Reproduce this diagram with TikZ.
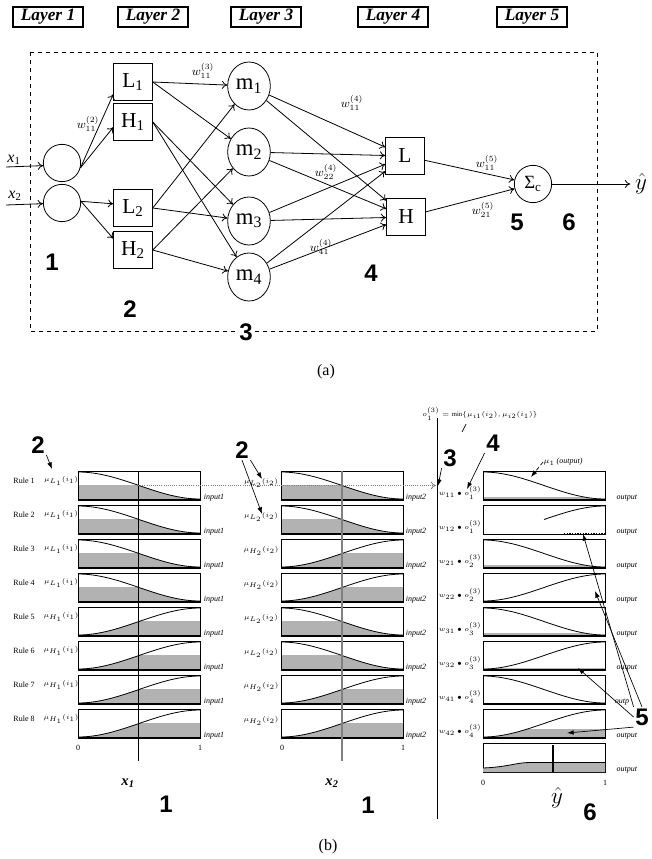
\documentclass[tikz,border=0pt]{standalone}
\usepackage{fontspec}
\setmainfont{Liberation Serif}
\newfontfamily\numfont{Liberation Sans}
\usetikzlibrary{arrows.meta,
                positioning,
                shapes.geometric
                }

\begin{document}
\begin{tikzpicture}[
    x=0.75pt, y=-0.75pt, line width=0.6pt,
    >={To[length=4pt, width=6pt]},
  lay/.style  = {draw, line width=1.4pt, minimum width=53pt, minimum height=15pt,
                 inner sep=0pt, font=\fontsize{13}{13}\selectfont\bfseries\itshape},
  inp/.style  = {circle, draw, minimum size=28pt, inner sep=0pt},
  mfb/.style  = {draw, minimum width=29pt, minimum height=28pt, inner sep=0pt,
                 font=\fontsize{16}{16}\selectfont},
  rulc/.style = {ellipse, draw, minimum width=32pt, minimum height=36pt, inner sep=0pt,
                 font=\fontsize{17}{17}\selectfont},
  num/.style  = {inner sep=1pt, font=\fontsize{18}{18}\selectfont\numfont\bfseries},
  wt/.style   = {inner sep=0pt, font=\fontsize{9}{9}\selectfont},
  lbl/.style  = {inner sep=0pt, font=\fontsize{6}{6}\selectfont},
  mul/.style  = {inner sep=0pt, font=\fontsize{5}{5}\selectfont},
  ptr/.style  = {-{Latex[length=5pt, width=3.5pt]}, line width=0.5pt},
  shd/.style  = {fill=black!30},
  pics/decmf/.style = {code={
    \fill[white] (0,0) rectangle (122,29);
    \begin{scope}
      \clip (0,#1) rectangle (122,29);
      \fill[shd] (0,1) .. controls (43,1) and (79,28) .. (122,28) |- (0,29) -- cycle;
    \end{scope}
    \draw (0,0) rectangle (122,29);
    \draw (0,1) .. controls (43,1) and (79,28) .. (122,28);
    \draw[line width=1.5pt] (0,29) -- (122,29);
  }},
  pics/incmf/.style = {code={
    \fill[white] (0,0) rectangle (122,29);
    \begin{scope}
      \clip (0,#1) rectangle (122,29);
      \fill[shd] (0,28) .. controls (43,28) and (79,1) .. (122,1) |- (0,29) -- cycle;
    \end{scope}
    \draw (0,0) rectangle (122,29);
    \draw (0,28) .. controls (43,28) and (79,1) .. (122,1);
    \draw[line width=1.5pt] (0,29) -- (122,29);
  }}
                    ]
\useasboundingbox (0,0) rectangle (652,859);

% (a) network
\foreach \i/\x in {1/48,2/153,3/266,4/393,5/532}
  \node[lay] (lay\i) at (\x,17) {Layer \i};
\draw[dashed] (30,52) rectangle (597,331);

\node[inp] (in1) at (62,163) {};
\node[inp] (in2) at (62,203) {};
\node (x1) at (14,160) {\fontsize{12}{12}\selectfont\textit{x}\textsubscript{1}};
\node (x2) at (15,196) {\fontsize{12}{12}\selectfont\textit{x}\textsubscript{2}};
\coordinate (s1) at (6,167);
\coordinate (s2) at (6,205);
\draw[->] (s1) -- (in1.188);
\draw[->] (s2) -- (in2.182);

\node[mfb] (L1) at (133,82)  {L\textsubscript{1}};
\node[mfb] (H1) at (133,122) {H\textsubscript{1}};
\node[mfb] (L2) at (133,208) {L\textsubscript{2}};
\node[mfb] (H2) at (133,250) {H\textsubscript{2}};

\node[rulc] (m1) at (249,86)  {m\textsubscript{1}};
\node[rulc] (m2) at (249,152) {m\textsubscript{2}};
\node[rulc] (m3) at (249,221) {m\textsubscript{3}};
\node[rulc] (m4) at (249,277) {m\textsubscript{4}};

\node[mfb] (L) at (405,156) {L};
\node[mfb] (H) at (406,217) {H};
\node[inp, font=\fontsize{14}{14}\selectfont] (sum) at (533,184) {Σ\textsubscript{c}};
\node[font=\fontsize{17}{17}\selectfont] (yh) at (641,184) {$\hat{y}$};

\draw[->] (in1.-15) -- (L1.212);
\draw[->] (in1.-15) -- (H1.195);
\draw[->] (in2.5) -- (L2.168);
\draw[->] (in2.5) -- (H2.150);
\foreach \a/\b in {L1/m1,L1/m2,H1/m3,H1/m4,L2/m1,L2/m3,H2/m2,H2/m4}
  \draw[->] (\a.east) -- (\b);
\foreach \a in {m1,m2,m3,m4}
  \foreach \b in {L,H}
    \draw[->] (\a) -- (\b);
\draw[->] (L) -- (sum);
\draw[->] (H) -- (sum);
\draw[->] (sum) -- (yh);

\node[wt] (w2)   at (88,124)  {$w^{(2)}_{11}$};
\node[wt] (w3)   at (203,71)  {$w^{(3)}_{11}$};
\node[wt] (w411) at (352,103) {$w^{(4)}_{11}$};
\node[wt] (w422) at (326,172) {$w^{(4)}_{22}$};
\node[wt] (w441) at (321,247) {$w^{(4)}_{41}$};
\node[wt] (w511) at (487,163) {$w^{(5)}_{11}$};
\node[wt] (w521) at (483,210) {$w^{(5)}_{21}$};

\node[num] (a1) at (52,262)  {1};
\node[num] (a2) at (130,309) {2};
\node[num, fill=white] (a3) at (246,332) {3};
\node[num] (a4) at (371,273) {4};
\node[num] (a5) at (517,222) {5};
\node[num] (a6) at (569,222) {6};
\node[font=\fontsize{12}{12}\selectfont] (capa) at (326,372) {(a)};

% (b) fuzzy reasoning
\foreach \r in {1,...,4} \pic at (78,{437+34*\r}) {decmf=14.5};
\foreach \r in {5,...,8} \pic at (78,{437+34*\r}) {incmf=14.5};
\foreach \r in {1,2,5,6} \pic at (281,{437+34*\r}) {decmf=14.5};
\foreach \r in {3,4,7,8} \pic at (281,{437+34*\r}) {incmf=14.5};
\foreach \r/\v in {1/26,3/26,5/26.5,7/29} \pic at (483,{437+34*\r}) {decmf=\v};
\foreach \r/\v in {4/28,6/27,8/20} \pic at (483,{437+34*\r}) {incmf=\v};
\begin{scope}[shift={(483,505)}]
  \draw[fill=white] (0,0) rectangle (122,29);
  \draw (61,14.5) .. controls (81,7.75) and (100.6,1) .. (122,1);
  \draw[densely dotted, line width=1pt] (81,29) -- (122,29);
\end{scope}
\begin{scope}[shift={(483,743)}]
  \draw[fill=white] (0,0) rectangle (122,29);
  \fill[shd] (0,29) -- (0,25) .. controls (25,24) and (33,19.5) .. (47,19.5)
    -- (122,19.5) -- (122,29) -- cycle;
  \draw (0,25) .. controls (25,24) and (33,19.5) .. (47,19.5) -- (122,19.5);
  \draw[line width=2pt] (70,2) -- (70,29);
\end{scope}

\draw (138,471) -- (138,761);
\draw[gray, line width=1pt] (342,471) -- (342,761);
\draw (437,418) -- (437,819);
\coordinate (lev1) at (138,485.5);
\coordinate (o3in) at (436,485.5);
\draw[densely dotted, gray, ->] (lev1) -- (o3in);

\foreach \r in {1,...,8} {
  \node[lbl] (rule\r) at (24,{437+34*\r+10}) {Rule \r};
  \node[lbl] (ia\r) at (214,{437+34*\r+27}) {\textit{input1}};
  \node[lbl] (ib\r) at (416,{437+34*\r+27}) {\textit{input2}};
}
\foreach \r/\m in {1/L,2/L,3/L,4/L,5/H,6/H,7/H,8/H}
  \node[mul] (mua\r) at (61,{437+34*\r+10}) {$\mu_{\m_1}(i_1)$};
\foreach \r/\m in {1/L,2/L,3/H,4/H,5/L,6/L,7/H,8/H}
  \node[mul] (mub\r) at (261,{437+34*\r+12}) {$\mu_{\m_2}(i_2)$};
\foreach \r/\w/\o in {1/11/1,2/12/1,3/21/2,4/22/2,5/31/3,6/32/3,7/41/4,8/42/4}
  \node[mul] (wo\r) at (460,{437+34*\r+22}) {$w_{\w}\bullet o_{\o}^{(3)}$};
\foreach \r in {1,...,6,8,9}
  \node[lbl] (out\r) at (627,{437+34*\r+27}) {\textit{output}};
\node[lbl] (out7) at (622,{437+34*7+27}) {\textit{outp}};

\node[lbl] (ta0) at (78,748)  {0};
\node[lbl] (ta1) at (200,748) {1};
\node[lbl] (tb0) at (282,748) {0};
\node[lbl] (tb1) at (403,748) {1};
\node[lbl] (tc0) at (483,783) {0};
\node[lbl] (tc1) at (605,783) {1};

\node[font=\fontsize{11}{11}\selectfont\bfseries\itshape] (xa) at (128,783) {x\textsubscript{1}};
\node[font=\fontsize{11}{11}\selectfont\bfseries\itshape] (xb) at (332,783) {x\textsubscript{2}};
\node[num] (b1a) at (166,804) {1};
\node[num] (b1b) at (368,805) {1};
\node[font=\fontsize{17}{17}\selectfont] (yhb) at (557,798) {$\hat{y}$};
\node[num] (b6) at (590,812) {6};

\node[mul] (o3) at (480,414) {$o_1^{(3)}=\min\{\mu_{i1}(i_2),\mu_{i2}(i_1)\}$};
\draw[line width=0.5pt] (462,432) -- (466,424);
\node[lbl] (muo) at (563,462) {$\mu_1$ \textit{(output)}};
\coordinate (tmu) at (531,477);
\draw[ptr, densely dashed] (muo.west) -- (tmu);

\node[num] (b2a) at (38,445) {2};
\coordinate (t2a) at (52,469);
\draw[ptr] (b2a.south east) -- (t2a);
\node[num] (b2b) at (242,450) {2};
\coordinate (t2b) at (262,479);
\coordinate (t2c) at (262,514);
\draw[ptr] (b2b.south east) -- (t2b);
\draw[ptr] (b2b.south) -- (t2c);
\node[num] (b3) at (450,458) {3};
\coordinate (t3) at (438,486);
\draw[ptr] (b3.south west) -- (t3);
\node[num] (b4) at (493,443) {4};
\coordinate (t4) at (467,489);
\draw[ptr] (b4.south west) -- (t4);
\node[num] (b5) at (642,717) {5};
\coordinate (t5a) at (583,534);
\coordinate (t5b) at (595,591);
\coordinate (t5c) at (578,668);
\coordinate (t5d) at (567,733);
\draw[ptr] (b5.north west) -- (t5a);
\draw[ptr] (b5.north) -- (t5b);
\draw[ptr] (b5.west) -- (t5c);
\draw[ptr] (b5.south west) -- (t5d);
\node[font=\fontsize{12}{12}\selectfont] (capb) at (328,847) {(b)};
\end{tikzpicture}
\end{document}
